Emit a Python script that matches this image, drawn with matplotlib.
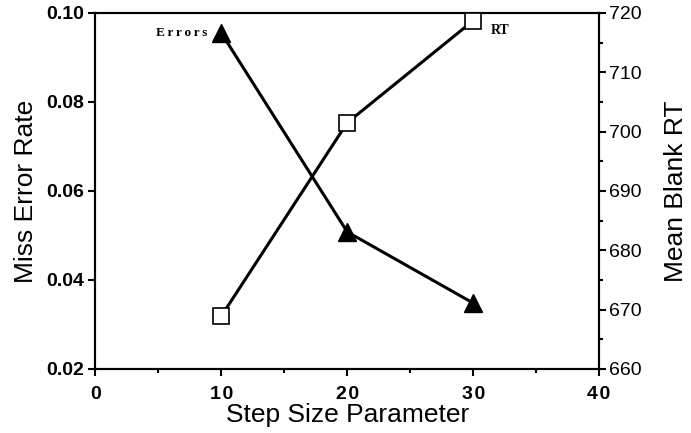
import matplotlib
matplotlib.use('Agg')
import matplotlib.pyplot as plt
from matplotlib.ticker import MultipleLocator, FuncFormatter

step_size = [10, 20, 30]
miss_error_rate = [0.0955, 0.0508, 0.0348]
mean_blank_rt = [668.9, 701.5, 718.7]

x_ticks = [0, 10, 20, 30, 40]
left_ticks = [0.02, 0.04, 0.06, 0.08, 0.10]
right_ticks = [660, 670, 680, 690, 700, 710, 720]

plt.rcParams['font.family'] = ['Liberation Sans', 'DejaVu Sans']

fig, ax = plt.subplots(figsize=(6.91, 4.33), dpi=100)
fig.subplots_adjust(left=0.138, right=0.867, top=0.97, bottom=0.148)
ax2 = ax.twinx()

ax.plot(step_size, miss_error_rate, color='black', lw=2.2, marker='^',
        markersize=12.5, markerfacecolor='black', zorder=3)
ax2.plot(step_size, mean_blank_rt, color='black', lw=2.2, marker='s',
         markersize=11, markerfacecolor='white', markeredgewidth=1.2, zorder=3)

ax.set_xlim(0, 40)
ax.set_ylim(0.02, 0.10)
ax2.set_ylim(660, 720)

ax.set_xticks(x_ticks)
ax.xaxis.set_major_formatter(FuncFormatter(lambda v, p: '\u200a'.join(str(int(v)))))
ax.xaxis.set_minor_locator(MultipleLocator(5))
ax.set_yticks(left_ticks)
ax.yaxis.set_major_formatter(FuncFormatter(lambda v, p: f'{v:.2f}'))
ax2.set_yticks(right_ticks)
ax2.yaxis.set_minor_locator(MultipleLocator(5))

for lab in ax.get_xticklabels() + ax.get_yticklabels():
    lab.set_fontweight('bold')
    lab.set_fontsize(14)
for lab in ax2.get_yticklabels():
    lab.set_fontsize(14)

ax.tick_params(axis='x', which='major', direction='out', length=5, width=1.5, pad=7)
ax.tick_params(axis='y', which='major', direction='out', length=5, width=1.5, pad=3)
ax.tick_params(axis='x', which='minor', direction='out', length=3, width=1.5)
ax2.tick_params(axis='y', which='major', direction='out', length=5, width=1.5, pad=2)
ax2.tick_params(axis='y', which='minor', direction='out', length=3, width=1.5)

for a in (ax, ax2):
    for s in a.spines.values():
        s.set_linewidth(1.5)

ax.set_xlabel('Step Size Parameter', fontsize=19, labelpad=0)
ax.set_ylabel('Miss Error Rate', fontsize=19, labelpad=6)
ax2.set_ylabel('Mean Blank RT', fontsize=19, labelpad=16)

ax.text(8.9, miss_error_rate[0], '\u2009'.join('Errors'), fontsize=9.5,
        fontweight='bold', family='Liberation Serif', ha='right', va='center')
ax2.text(31.4, mean_blank_rt[2] - 1.6, 'RT', fontsize=10,
         fontweight='bold', family='Liberation Serif', ha='left', va='center')

fig.savefig('out.png', dpi=100)
